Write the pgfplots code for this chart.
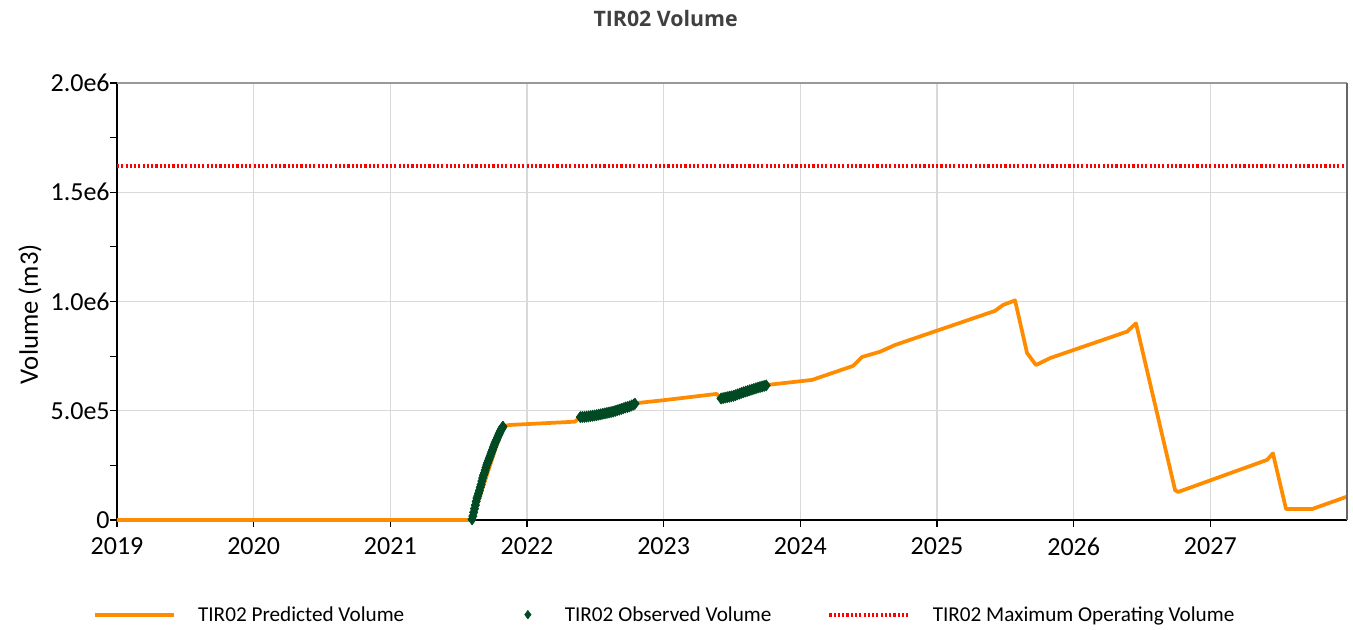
\documentclass[border=0pt]{standalone}
\usepackage{pgfplots}
\pgfplotsset{compat=1.18}
\usepackage{fontspec}
\setmainfont{Carlito}
\newfontfamily\titlefont{Open Sans}
\definecolor{predorange}{HTML}{FF8C00}
\definecolor{obsgreen}{HTML}{004A23}
\definecolor{gridgray}{HTML}{D9D9D9}
\definecolor{maxred}{HTML}{FF0000}

\begin{document}
\begin{tikzpicture}
\begin{axis}[
  name=ax,
  scale only axis,
  width=922.5pt, height=327.75pt,
  xmin=2019, xmax=2028, ymin=0, ymax=2000000,
  axis lines*=left,
  axis line style={black, line width=1pt},
  xtick={2019,2020,2021,2022,2023,2024,2025,2026,2027},
  xticklabels={2019,2020,2021,2022,2023,2024,2025,2026,2027},
  ytick={0,500000,1000000,1500000,2000000},
  yticklabels={0,5.0e5,1.0e6,1.5e6,2.0e6},
  minor ytick={250000,750000,1250000,1750000},
  scaled y ticks=false,
  tick align=outside,
  major tick length=5pt, minor tick length=5pt,
  tick style={black, line width=0.8pt},
  grid=major,
  major grid style={gridgray, line width=0.9pt},
  ticklabel style={font=\fontsize{19.5}{22}\selectfont},
  x tick label style={yshift=-5pt},
  y tick label style={xshift=3pt},
  ylabel={Volume (m3)},
  ylabel style={font=\fontsize{20}{23}\selectfont, at={(axis description cs:-0.0707,0.471)}, anchor=center},
  title={TIR02 Volume},
  title style={font=\titlefont\bfseries\fontsize{16}{19}\selectfont, text=black!75, at={(axis description cs:0.446,1)}, anchor=center, yshift=42.5pt},
  clip=false,
  legend columns=3,
  legend cell align=left,
  legend style={draw=none, fill=none, inner sep=0pt, outer sep=0pt,
    at={(axis description cs:-0.0195,0)}, anchor=west, yshift=-71pt,
    font=\fontsize{15.9}{18}\selectfont,
    /tikz/column 1/.style={column sep=15pt},
    /tikz/column 2/.style={column sep=80pt},
    /tikz/column 3/.style={column sep=15pt},
    /tikz/column 4/.style={column sep=40pt},
    /tikz/column 5/.style={column sep=15pt}},
]
\addplot[predorange, line width=2.8pt, line join=round,
  legend image code/.code={\draw[predorange, line width=2.8pt] (0pt,0pt) -- (59pt,0pt);}]
  coordinates {
  (2019.000,0) (2021.598,0) (2021.824,430000) (2021.876,435000)
  (2022.351,450000) (2022.388,471000) (2022.790,534000) (2023.010,549000)
  (2023.388,577000) (2023.419,554000) (2023.756,618000) (2024.085,641000)
  (2024.385,705000) (2024.451,746000) (2024.583,770000) (2024.693,801000)
  (2025.424,957000) (2025.483,984000) (2025.571,1005000) (2025.659,764000)
  (2025.724,709000) (2025.827,741000) (2026.390,862000) (2026.456,900000)
  (2026.742,137000) (2026.763,128000) (2027.415,275000) (2027.458,305000)
  (2027.554,50000) (2027.744,50000) (2028.000,107000)
  };
\addlegendentry{TIR02 Predicted Volume}
\addplot[only marks, mark=diamond*, mark size=4.2pt, color=obsgreen,
  legend image code/.code={\path (0pt,0pt) (21pt,0pt); \draw[obsgreen] plot[mark=diamond*, mark size=3.2pt] coordinates {(10.5pt,0pt)};}]
  coordinates {
  (2021.598,3000) (2021.604,18000) (2021.610,35000) (2021.616,52000)
  (2021.622,68000) (2021.628,85000) (2021.634,100000) (2021.640,110000)
  (2021.646,122000) (2021.652,135000) (2021.658,150000) (2021.664,162000)
  (2021.670,178000) (2021.676,192000) (2021.682,205000) (2021.688,215000)
  (2021.694,228000) (2021.700,240000) (2021.706,252000) (2021.712,262000)
  (2021.718,272000) (2021.724,282000) (2021.730,292000) (2021.736,302000)
  (2021.742,312000) (2021.748,322000) (2021.754,333000) (2021.760,343000)
  (2021.766,352000) (2021.772,360000) (2021.778,368000) (2021.784,377000)
  (2021.790,386000) (2021.796,394000) (2021.802,402000) (2021.808,410000)
  (2021.814,417000) (2021.820,423000) (2021.824,427000)
  (2022.390,471000) (2022.405,471500) (2022.420,472000) (2022.435,473000)
  (2022.450,474000) (2022.465,475500) (2022.480,477000) (2022.495,478500)
  (2022.510,480000) (2022.525,482000) (2022.540,484000) (2022.555,486000)
  (2022.570,488000) (2022.585,490000) (2022.600,492000) (2022.615,494000)
  (2022.630,496000) (2022.645,499000) (2022.660,502000) (2022.675,505000)
  (2022.690,508000) (2022.705,511000) (2022.720,515000) (2022.735,517000)
  (2022.750,520000) (2022.765,524000) (2022.780,528000) (2022.790,532000)
  (2023.420,556000) (2023.435,558000) (2023.450,560000) (2023.465,562000)
  (2023.480,564000) (2023.495,566000) (2023.510,568000) (2023.525,571000)
  (2023.540,575000) (2023.555,578000) (2023.570,582000) (2023.585,585000)
  (2023.600,588000) (2023.615,591000) (2023.630,594000) (2023.645,597000)
  (2023.660,600000) (2023.675,603000) (2023.690,606000) (2023.705,608500)
  (2023.720,611000) (2023.735,613500) (2023.750,616000)
  };
\addlegendentry{TIR02 Observed Volume}
\addplot[maxred, line width=3pt, dash pattern=on 1.6pt off 1.6pt,
  legend image code/.code={\draw[maxred, line width=3pt, dash pattern=on 1.6pt off 1.6pt] (0pt,0pt) -- (59pt,0pt);}]
  coordinates {(2019,1620000) (2028,1620000)};
\addlegendentry{TIR02 Maximum Operating Volume}
\end{axis}
\draw[black!40, line width=0.9pt] (ax.north west) -- (ax.north east);
\draw[black!60, line width=0.9pt] (ax.north east) -- (ax.south east);
\pgfresetboundingbox
\path ([xshift=-87.75pt,yshift=-82.5pt]ax.south west) rectangle ([xshift=4.5pt,yshift=62.25pt]ax.north east);
\end{tikzpicture}
\end{document}
